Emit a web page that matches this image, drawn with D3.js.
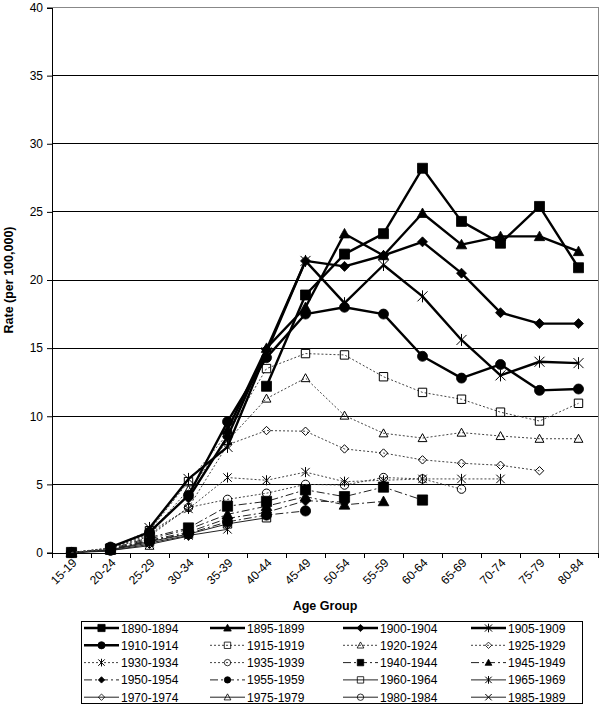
<!DOCTYPE html>
<html><head><meta charset="utf-8">
<script src="https://cdn.jsdelivr.net/npm/d3@7"></script>
<style>body{margin:0;background:#fff}svg{display:block;font-family:"Liberation Sans",Arial,sans-serif}</style>
</head><body><svg id="c" width="600" height="706"></svg>
<script>
const categories = ["15-19","20-24","25-29","30-34","35-39","40-44","45-49","50-54","55-59","60-64","65-69","70-74","75-79","80-84"];
const cohorts = ["1890-1894","1895-1899","1900-1904","1905-1909","1910-1914","1915-1919","1920-1924","1925-1929","1930-1934","1935-1939","1940-1944","1945-1949","1950-1954","1955-1959","1960-1964","1965-1969","1970-1974","1975-1979","1980-1984","1985-1989"];
const _ = null;
const v1890 = [_,_,_,_,_,12.2,18.9,21.9,23.4,28.2,24.3,22.7,25.4,20.9];
const v1895 = [_,_,_,_,9.0,15.0,18.0,23.4,21.8,24.9,22.6,23.2,23.2,22.1];
const v1900 = [_,_,_,4.0,8.5,14.9,21.4,21.0,21.8,22.8,20.5,17.6,16.8,16.8];
const v1905 = [_,_,1.8,5.4,7.75,14.7,21.4,18.3,21.1,18.8,15.6,13.0,14.0,13.9];
const v1910 = [_,0.4,1.5,4.2,9.6,14.3,17.5,18.0,17.5,14.4,12.8,13.8,11.9,12.0];
const v1915 = [0.0,0.35,1.6,5.2,8.7,13.5,14.6,14.5,12.9,11.75,11.25,10.3,9.65,10.95];
const v1920 = [0.0,0.3,1.4,4.6,8.2,11.3,12.8,10.05,8.75,8.4,8.8,8.55,8.35,8.35];
const v1925 = [0.0,0.3,1.3,3.3,7.9,8.95,8.9,7.6,7.3,6.8,6.55,6.4,6.0,_];
const v1930 = [0.0,0.3,1.5,3.2,5.5,5.3,5.9,5.2,5.3,5.4,5.4,5.4,_,_];
const v1935 = [0.0,0.25,1.2,3.3,3.9,4.35,5.0,4.95,5.5,5.4,4.65,_,_,_];
const v1940 = [0.0,0.25,1.1,1.8,3.4,3.75,4.6,4.1,4.8,3.85,_,_,_,_];
const v1945 = [0.0,0.2,1.0,1.7,2.8,3.4,4.1,3.5,3.75,_,_,_,_,_];
const v1950 = [0.0,0.2,0.9,1.5,2.5,2.95,3.8,3.7,_,_,_,_,_,_];
const v1955 = [0.0,0.2,0.85,1.4,2.25,2.75,3.05,_,_,_,_,_,_,_];
const v1960 = [0.0,0.2,0.8,1.35,2.1,2.55,_,_,_,_,_,_,_,_];
const v1965 = [0.0,0.2,0.7,1.25,1.7,_,_,_,_,_,_,_,_,_];
const v1970 = [0.0,0.15,0.6,1.2,_,_,_,_,_,_,_,_,_,_];
const v1975 = [0.0,0.15,0.5,_,_,_,_,_,_,_,_,_,_,_];
const v1980 = [0.0,0.1,_,_,_,_,_,_,_,_,_,_,_,_];
const v1985 = [0.0,_,_,_,_,_,_,_,_,_,_,_,_,_];
const yTicks = [0,5,10,15,20,25,30,35,40];

const valuesList = [v1890,v1895,v1900,v1905,v1910,v1915,v1920,v1925,v1930,v1935,v1940,v1945,v1950,v1955,v1960,v1965,v1970,v1975,v1980,v1985];
const markers = ["square","triangle","diamond","asterisk","circle","square","triangle","diamond","asterisk","circle","square","triangle","diamond","circle","square","asterisk","diamond","triangle","circle","x"];
function styleOf(i){
  if(i<5) return {w:2.4, dash:null, fill:true, color:"#000", ms:5};
  if(i<10) return {w:1, dash:"2,2", fill:false, color:"#444", ms:4.2};
  if(i<14) return {w:1, dash:"8,3,2,3", fill:true, color:"#222", ms:5.1};
  return {w:1, dash:null, fill:false, color:"#222", ms:4.2};
}
function markerPath(type, s){
  switch(type){
    case "square": return `M${-s},${-s}H${s}V${s}H${-s}Z`;
    case "triangle": return `M0,${-s*1.05}L${s*1.05},${s*0.85}L${-s*1.05},${s*0.85}Z`;
    case "diamond": return `M0,${-s}L${s},0L0,${s}L${-s},0Z`;
    case "circle": return `M${s},0A${s},${s} 0 1,1 ${-s},0A${s},${s} 0 1,1 ${s},0Z`;
    case "asterisk": return `M${-s},${-s}L${s},${s}M${-s},${s}L${s},${-s}M0,${-s*1.2}V${s*1.2}`;
    case "x": return `M${-s},${-s}L${s},${s}M${-s},${s}L${s},${-s}`;
  }
}

const svg = d3.select("#c");
const L=52, R=598, T=7.5, B=552.5;
const x = d3.scaleBand().domain(categories).range([L,R]).padding(0);
const xc = c => x(c) + x.bandwidth()/2;
const y = d3.scaleLinear().domain([0,40]).range([B,T]);

svg.append("g").selectAll("line").data(yTicks.filter(t=>t>0 && t<40)).join("line")
  .attr("x1",L).attr("x2",R).attr("y1",d=>y(d)).attr("y2",d=>y(d))
  .attr("stroke","#000").attr("stroke-width",1).attr("shape-rendering","crispEdges");
svg.append("path").attr("d",`M${L},${y(40)}H${R}V${B}`).attr("fill","none")
  .attr("stroke","#888").attr("stroke-width",1).attr("shape-rendering","crispEdges");

const yAxis = d3.axisLeft(y).tickValues(yTicks).tickSize(5).tickPadding(4);
const gy = svg.append("g").attr("transform",`translate(${L},0)`).call(yAxis);
gy.select(".domain").attr("stroke","#000").attr("shape-rendering","crispEdges");
gy.selectAll(".tick line").attr("stroke","#000");
gy.selectAll("text").attr("font-size",12).attr("font-family","Liberation Sans, Arial, sans-serif").attr("fill","#000");

const xAxis = d3.axisBottom(x).tickSize(0).tickPadding(0);
const gx = svg.append("g").attr("transform",`translate(0,${B})`).call(xAxis);
gx.select(".domain").attr("stroke","#000").attr("shape-rendering","crispEdges");
gx.selectAll("text").attr("font-size",12).attr("font-family","Liberation Sans, Arial, sans-serif").attr("fill","#000")
  .attr("text-anchor","end").attr("dy",null).attr("y",0)
  .attr("transform","translate(6,11) rotate(-45)");
svg.append("g").selectAll("line").data(categories.concat(["end"])).join("line")
  .attr("x1",d=>d==="end"?R:x(d)).attr("x2",d=>d==="end"?R:x(d))
  .attr("y1",B).attr("y2",B+5).attr("stroke","#000").attr("shape-rendering","crispEdges");

svg.append("text").attr("x",(L+R)/2).attr("y",610).attr("text-anchor","middle")
  .attr("font-size",12.5).attr("font-weight","bold").text("Age Group");
svg.append("text").attr("transform",`translate(13,${(T+B)/2}) rotate(-90)`).attr("text-anchor","middle")
  .attr("font-size",12.5).attr("font-weight","bold").text("Rate (per 100,000)");

const series = cohorts.map((name,i)=>({name, i, vals: valuesList[i].map((v,k)=>({c:categories[k], v})).filter(d=>d.v!==null)}));
const line = d3.line().x(d=>xc(d.c)).y(d=>y(d.v));
const gS = svg.append("g");
series.slice().reverse().forEach(s=>{
  const st = styleOf(s.i);
  const g = gS.append("g");
  g.append("path").attr("d",line(s.vals)).attr("fill","none").attr("stroke",st.color)
    .attr("stroke-width",st.w).attr("stroke-dasharray",st.dash).attr("stroke-linejoin","round");
  const m = markers[s.i];
  const isStroke = (m==="asterisk"||m==="x");
  g.selectAll("path.m").data(s.vals).join("path").attr("class","m")
    .attr("transform",d=>`translate(${xc(d.c)},${y(d.v)})`)
    .attr("d",markerPath(m, st.ms))
    .attr("fill", (isStroke||!st.fill)?"none":"#000")
    .attr("stroke","#000").attr("stroke-width", isStroke?1:(st.fill?0.8:1));
});

const lg = svg.append("g");
lg.append("rect").attr("x",81.5).attr("y",621.5).attr("width",501).attr("height",82)
  .attr("fill","#fff").attr("stroke","#000").attr("stroke-width",1);
const colX = [82,208,341,469];
cohorts.forEach((name,i)=>{
  const st = styleOf(i);
  const cx = colX[i%4], cy = 628 + Math.floor(i/4)*17.3;
  const g = lg.append("g");
  g.append("line").attr("x1",cx+2).attr("x2",cx+37).attr("y1",cy).attr("y2",cy)
    .attr("stroke",st.color).attr("stroke-width",st.w).attr("stroke-dasharray",st.dash);
  const m = markers[i];
  const isStroke = (m==="asterisk"||m==="x");
  g.append("path").attr("transform",`translate(${cx+19.5},${cy})`).attr("d",markerPath(m, i<5?3.6:3.2))
    .attr("fill", (isStroke||!st.fill)?"none":"#000").attr("stroke","#000").attr("stroke-width",isStroke?1:0.8);
  g.append("text").attr("x",cx+39).attr("y",cy+4.5).attr("font-size",12).text(name);
});
</script></body></html>
